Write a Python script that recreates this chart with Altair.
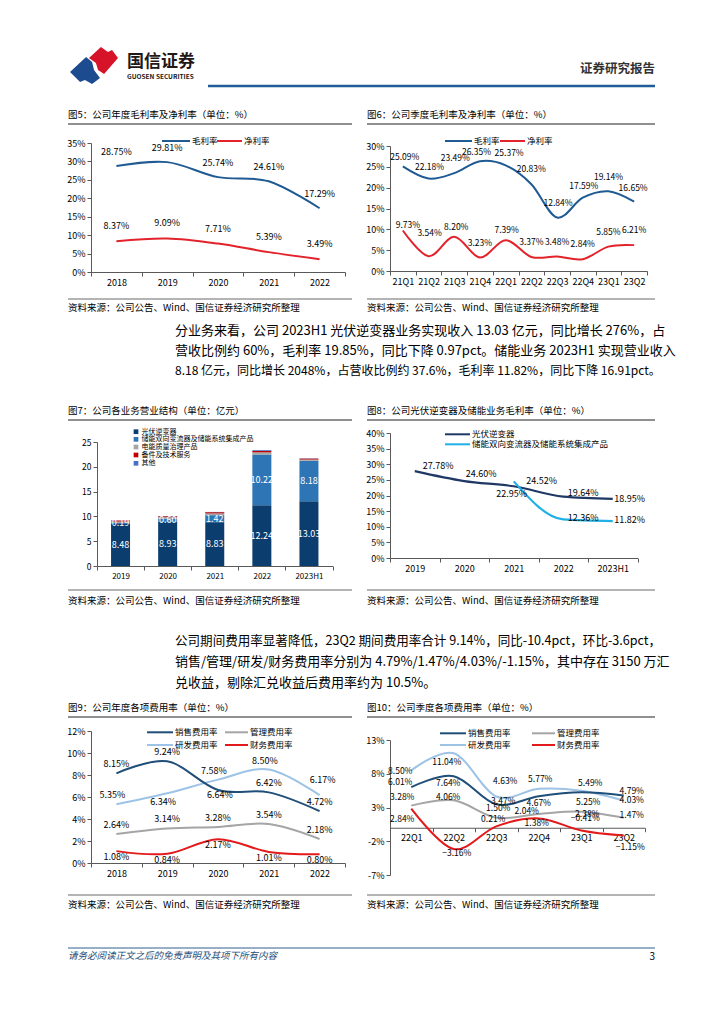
import altair as alt
import pandas as pd

FONT = "Noto Sans CJK SC"
ONE = pd.DataFrame({"a": [0]})

# ---------------- data ----------------
YEARS_A = ["2018", "2019", "2020", "2021", "2022"]
GROSS_A = [28.75, 29.81, 25.74, 24.61, 17.29]
NET_A = [8.37, 9.09, 7.71, 5.39, 3.49]

QUARTERS_B = ["21Q1", "21Q2", "21Q3", "21Q4", "22Q1", "22Q2", "22Q3", "22Q4", "23Q1", "23Q2"]
GROSS_B = [25.09, 22.18, 23.49, 26.35, 25.37, 20.83, 12.84, 17.59, 19.14, 16.65]
NET_B = [9.73, 3.54, 8.20, 3.23, 7.39, 3.37, 3.48, 2.84, 5.85, 6.21]

YEARS_C = ["2019", "2020", "2021", "2022", "2023H1"]
SEG_NAMES = ["光伏逆变器", "储能双向变流器及储能系统集成产品", "电能质量治理产品", "备件及技术服务", "其他"]
PV_REV = [8.48, 8.93, 8.83, 12.24, 13.03]
ESS_REV = [0.19, 0.60, 1.42, 10.22, 8.18]
PQ_REV = [0.30, 0.30, 0.35, 0.45, 0.25]
SVC_REV = [0.20, 0.20, 0.25, 0.30, 0.20]
OTH_REV = [0.03, 0.05, 0.05, 0.15, 0.05]

YEARS_D = ["2019", "2020", "2021", "2022", "2023H1"]
PV_GM = [27.78, 24.60, 22.95, 19.64, 18.95]
ESS_GM = [None, None, 24.52, 12.36, 11.82]

YEARS_E = ["2018", "2019", "2020", "2021", "2022"]
SALES_E = [8.15, 9.24, 6.64, 6.42, 4.72]
ADMIN_E = [2.64, 3.14, 3.28, 3.54, 2.18]
RD_E = [5.35, 6.34, 7.58, 8.50, 6.17]
FIN_E = [1.08, 0.84, 2.17, 1.01, 0.80]

QUARTERS_F = ["22Q1", "22Q2", "22Q3", "22Q4", "23Q1", "23Q2"]
SALES_F = [6.01, 7.64, 3.47, 4.67, 5.25, 4.79]
ADMIN_F = [3.28, 4.06, 1.50, 2.04, 2.38, 1.47]
RD_F = [8.50, 11.04, 4.63, 5.77, 5.49, 4.03]
FIN_F = [2.84, -3.16, 0.21, 1.38, -0.41, -1.15]

SOURCE = "资料来源：公司公告、Wind、国信证券经济研究所整理"
PARA1 = [
    "分业务来看，公司 2023H1 光伏逆变器业务实现收入 13.03 亿元，同比增长 276%，占",
    "营收比例约 60%，毛利率 19.85%，同比下降 0.97pct。储能业务 2023H1 实现营业收入",
    "8.18 亿元，同比增长 2048%，占营收比例约 37.6%，毛利率 11.82%，同比下降 16.91pct。",
]
PARA2 = [
    "公司期间费用率显著降低，23Q2 期间费用率合计 9.14%，同比-10.4pct，环比-3.6pct，",
    "销售/管理/研发/财务费用率分别为 4.79%/1.47%/4.03%/-1.15%，其中存在 3150 万汇",
    "兑收益，剔除汇兑收益后费用率约为 10.5%。",
]

# ---------------- styles ----------------
AX = "#595959"
FRAME = "#6b6b6b"
BLUE = "#1F5A93"
RED = "#E3232B"
SEG_COLORS = ["#0B3D6E", "#2E75B6", "#A5A5A5", "#C00000", "#4472C4"]
C_SALES, C_ADMIN, C_RD, C_FIN = "#1F4E79", "#A5A5A5", "#9DC3E6", "#E31A1C"
PARA1_SIZES = [13, 13, 12]
PARA2_SIZES = [12.55, 13, 13]


def long_df(cats, series):
    rows = []
    for s, vals in series.items():
        for c, v in zip(cats, vals):
            if v is not None:
                rows.append({"cat": c, "series": s, "value": v})
    return pd.DataFrame(rows)


def mk_text(txt, x, y, size, color="#000", align="left", weight="normal", italic=False):
    kw = dict(text=txt, fontSize=size, font=FONT, color=color, align=align,
              baseline="middle", fontWeight=weight)
    if italic:
        kw["fontStyle"] = "italic"
    return alt.Chart(ONE).mark_text(**kw).encode(x=alt.value(x), y=alt.value(y))


def mk_hline(x1, x2, y, color, w):
    return alt.Chart(ONE).mark_rule(color=color, strokeWidth=w).encode(
        x=alt.value(x1), x2=alt.value(x2), y=alt.value(y))


def spacer(w, h):
    return alt.Chart(ONE).mark_text(text=" ", opacity=0, fontSize=1).encode(
        x=alt.value(w / 2), y=alt.value(h / 2)).properties(width=w, height=h)


def frame(title, ty, ly, by, sy, x0, x1):
    return [mk_text(title, x0, ty, 9.5), mk_hline(x0, x1, ly, FRAME, 1.5),
            mk_hline(x0, x1, by, FRAME, 1.2), mk_text(SOURCE, x0, sy, 9.5)]


def leg_line(x1, x2, y, color, label, tx, size=8.5):
    return [mk_hline(x1, x2, y, color, 2), mk_text(label, tx, y, size)]


def x_axis(size=9, offset=None):
    kw = dict(title=None, labelAngle=0, tickBand="extent", tickSize=4, domainColor=AX,
              tickColor=AX, labelFont=FONT, labelFontSize=size, labelColor="#000",
              labelPadding=2, grid=False)
    if offset is not None:
        kw["offset"] = offset
    return alt.Axis(**kw)


def y_axis(values, pct=True, size=9, offset=None):
    kw = dict(values=values, title=None, grid=False, domainColor=AX, tickColor=AX,
              tickSize=4, labelFont=FONT, labelFontSize=size, labelColor="#000",
              labelPadding=2)
    if pct:
        kw["labelExpr"] = "datum.value + '%'"
    if offset is not None:
        kw["offset"] = offset
    return alt.Axis(**kw)


def line_chart(cats, df, styles, lbl_spec, width, height, xrange, yrange, ydomain,
               yvals, interp, decor, x_off=None, lbl_size=9):
    xs = alt.Scale(type="band", domain=cats, range=xrange, paddingInner=0, paddingOuter=0)
    ys = alt.Scale(domain=ydomain, range=yrange, nice=False, zero=False)
    xenc = alt.X("cat:N", sort=cats, scale=xs, axis=x_axis(offset=x_off), bandPosition=0.5)
    yenc = alt.Y("value:Q", scale=ys, axis=y_axis(yvals))
    layers = []
    for s, (color, w) in styles.items():
        layers.append(alt.Chart(df).transform_filter(alt.datum.series == s)
                      .mark_line(color=color, strokeWidth=w, interpolate=interp)
                      .encode(x=xenc, y=yenc))
    for s, (default, over) in lbl_spec.items():
        groups = {}
        for c in cats:
            groups.setdefault(over.get(c, default), []).append(c)
        for (dx, dy), cs in groups.items():
            layers.append(
                alt.Chart(df)
                .transform_filter(alt.datum.series == s)
                .transform_filter(alt.FieldOneOfPredicate(field="cat", oneOf=cs))
                .transform_calculate(lbl="format(datum.value, '.2f') + '%'")
                .mark_text(dx=dx, dy=dy, fontSize=lbl_size, font=FONT, color="#000", baseline="middle")
                .encode(x=xenc, y=yenc, text="lbl:N"))
    layers += decor
    return alt.layer(*layers).properties(width=width, height=height)


# ---------------- fig 5 ----------------
dfA = long_df(YEARS_A, {"毛利率": GROSS_A, "净利率": NET_A})
chartA = line_chart(
    YEARS_A, dfA, {"毛利率": (BLUE, 2), "净利率": (RED, 2)},
    {"毛利率": ((0, -14), {}), "净利率": ((0, -15), {})},
    254, 129, [0, 254], [129, 0], [0, 35], [0, 5, 10, 15, 20, 25, 30, 35], "cardinal",
    frame("图5：公司年度毛利率及净利率（单位：%）", -28, -19, 156, 165, -23, 261)
    + leg_line(71, 99, -2, BLUE, "毛利率", 101) + leg_line(126, 151, -2, RED, "净利率", 153))

# ---------------- fig 6 ----------------
dfB = long_df(QUARTERS_B, {"毛利率": GROSS_B, "净利率": NET_B})
chartB = line_chart(
    QUARTERS_B, dfB, {"毛利率": (BLUE, 2), "净利率": (RED, 2)},
    {"毛利率": ((1, -12), {"21Q1": (2, -9), "21Q3": (1, -15), "21Q4": (-3.5, -9.5),
                         "22Q1": (3.5, -12.5), "22Q2": (0, -15), "22Q3": (1, -15),
                         "23Q1": (0, -14), "23Q2": (-1, -14)}),
     "净利率": ((0, -15), {"21Q1": (5, -5), "21Q2": (1, -23), "21Q3": (2, -10), "22Q1": (1, -10)})},
    257, 128, [0, 257], [128, 3], [0, 30], [0, 5, 10, 15, 20, 25, 30], "cardinal",
    frame("图6：公司季度毛利率及净利率（单位：%）", -28, -19, 156, 165, -23, 265)
    + leg_line(55, 82, -2, BLUE, "毛利率", 84) + leg_line(110, 135, -2, RED, "净利率", 137),
    lbl_size=8.5)

# ---------------- fig 7 (stacked bars) ----------------
rowsC = []
for i, (name, vals) in enumerate(zip(SEG_NAMES, [PV_REV, ESS_REV, PQ_REV, SVC_REV, OTH_REV])):
    for c, v in zip(YEARS_C, vals):
        rowsC.append({"cat": c, "seg": name, "value": v, "order": i})
dfC = pd.DataFrame(rowsC)
xsC = alt.Scale(type="band", domain=YEARS_C, range=[6, 241.5], paddingInner=0, paddingOuter=0)
ysC = alt.Scale(domain=[0, 25], range=[133, 9], nice=False)
axC = y_axis([0, 5, 10, 15, 20, 25], pct=False, size=8.5, offset=-6)
bars = alt.Chart(dfC).mark_bar(size=19).encode(
    x=alt.X("cat:N", sort=YEARS_C, scale=xsC, axis=x_axis(size=8)),
    y=alt.Y("value:Q", scale=ysC, stack="zero", axis=axC),
    color=alt.Color("seg:N", scale=alt.Scale(domain=SEG_NAMES, range=SEG_COLORS), legend=None),
    order=alt.Order("order:Q"))
bar_lbl = (alt.Chart(dfC)
           .transform_stack(stack="value", as_=["v0", "v1"], groupby=["cat"],
                            sort=[alt.SortField("order", "ascending")])
           .transform_filter(alt.datum.order <= 1)
           .transform_calculate(mid="(datum.v0 + datum.v1) / 2", lbl="format(datum.value, '.2f')")
           .mark_text(color="white", fontSize=9, font=FONT, baseline="middle")
           .encode(x=alt.X("cat:N", sort=YEARS_C, scale=xsC, axis=x_axis(size=8), bandPosition=0.5),
                   y=alt.Y("mid:Q", scale=ysC, stack=False, axis=axC),
                   text="lbl:N"))
legC = []
for i, (name, col) in enumerate(zip(SEG_NAMES, SEG_COLORS)):
    yy = [-1.3, 6.3, 14, 22, 30.3][i]
    legC.append(alt.Chart(ONE).mark_square(size=22, color=col, opacity=1).encode(
        x=alt.value(45), y=alt.value(yy)))
    legC.append(mk_text(name, 50.5, yy, 7))
chartC = alt.layer(bars, bar_lbl,
                   *frame("图7：公司各业务营业结构（单位：亿元）", -22, -13, 157, 168, -23, 261),
                   *legC).properties(width=254, height=133)

# ---------------- fig 8 ----------------
dfD = long_df(YEARS_D, {"光伏逆变器": PV_GM, "储能双向变流器及储能系统集成产品": ESS_GM})
chartD = line_chart(
    YEARS_D, dfD, {"光伏逆变器": ("#1F3864", 2.2), "储能双向变流器及储能系统集成产品": ("#1FB0E6", 2.2)},
    {"光伏逆变器": ((20, -4), {"2019": (23.5, -5.5), "2020": (17, -7), "2021": (-2, 8), "2023H1": (17, 0)}),
     "储能双向变流器及储能系统集成产品": ((20, -1), {"2021": (28, 0), "2023H1": (17, -1)})},
    257, 125, [0, 247.5], [125, 0], [0, 40], [0, 5, 10, 15, 20, 25, 30, 35, 40], "monotone",
    frame("图8：公司光伏逆变器及储能业务毛利率（单位：%）", -22, -13, 157, 168, -23, 265)
    + leg_line(55, 80, 1.3, "#1F3864", "光伏逆变器", 82)
    + leg_line(55, 80, 11.3, "#1FB0E6", "储能双向变流器及储能系统集成产品", 82))

# ---------------- fig 9 ----------------
dfE = long_df(YEARS_E, {"销售费用率": SALES_E, "管理费用率": ADMIN_E, "研发费用率": RD_E, "财务费用率": FIN_E})
chartE = line_chart(
    YEARS_E, dfE,
    {"研发费用率": (C_RD, 2), "管理费用率": (C_ADMIN, 2), "财务费用率": (C_FIN, 2), "销售费用率": (C_SALES, 2)},
    {"销售费用率": ((0, -9.5), {"2020": (2, 5)}),
     "研发费用率": ((-4, -9), {"2019": (-4, 8.5), "2022": (3, -15)}),
     "管理费用率": ((0, -9), {}),
     "财务费用率": ((0, 6), {})},
    254, 132, [0, 254], [132, 0], [0, 12], [0, 2, 4, 6, 8, 10, 12], "cardinal",
    frame("图9：公司年度各项费用率（单位：%）", -23, -14, 164, 174, -23, 261)
    + leg_line(56, 82, 1.3, C_SALES, "销售费用率", 84) + leg_line(134, 157, 1.3, C_ADMIN, "管理费用率", 159)
    + leg_line(56, 82, 14, C_RD, "研发费用率", 84) + leg_line(134, 157, 14, C_FIN, "财务费用率", 159))

# ---------------- fig 10 ----------------
dfF = long_df(QUARTERS_F, {"销售费用率": SALES_F, "管理费用率": ADMIN_F, "研发费用率": RD_F, "财务费用率": FIN_F})
F_DOM = [-7, 13]
F_RANGE = [144, 9]
zero_px = F_RANGE[1] + (F_DOM[1] - 0) / (F_DOM[1] - F_DOM[0]) * (F_RANGE[0] - F_RANGE[1])
chartF = line_chart(
    QUARTERS_F, dfF,
    {"研发费用率": (C_RD, 2), "管理费用率": (C_ADMIN, 2), "财务费用率": (C_FIN, 2), "销售费用率": (C_SALES, 2)},
    {"研发费用率": ((0, -9), {"22Q1": (-11, 1), "22Q2": (-7, 8.5), "22Q3": (9, -15), "22Q4": (1.5, -9.5),
                           "23Q1": (9, -7.4), "23Q2": (8, -0.5)}),
     "销售费用率": ((0, -9), {"22Q1": (-11, -5.5), "22Q2": (-5.5, 7), "22Q3": (7, -3.6), "22Q4": (0, 7),
                           "23Q1": (7, 9.4), "23Q2": (8, -4.5)}),
     "管理费用率": ((0, -9), {"22Q1": (-9, -8.3), "22Q2": (-5.5, -3), "22Q3": (2, -9.3), "22Q4": (-12, -3.3),
                           "23Q1": (6, 2.3), "23Q2": (8, -2.8)}),
     "财务费用率": ((0, 6), {"22Q1": (-9, 10.4), "22Q2": (3, 4), "22Q3": (-3, -7.3), "22Q4": (-2, 5),
                          "23Q1": (4, -12.5), "23Q2": (6.5, 11.8)})},
    257, 144, [0, 255], F_RANGE, F_DOM, [-7, -2, 3, 8, 13], "cardinal",
    frame("图10：公司季度各项费用率（单位：%）", -23, -14, 164, 174, -23, 265)
    + leg_line(50, 76, 2.3, C_SALES, "销售费用率", 78) + leg_line(142, 165, 2.3, C_ADMIN, "管理费用率", 167)
    + leg_line(50, 76, 14, C_RD, "研发费用率", 78) + leg_line(142, 165, 14, C_FIN, "财务费用率", 167),
    x_off=-(F_RANGE[0] - zero_px), lbl_size=8.5)

# ---------------- page text rows ----------------
LOGO_RED = "M-0.21,-0.29 L0.29,-0.75 L0.58,-0.54 L0.75,-0.63 L1,-0.29 L0.42,0.38 L0.17,0.21 L0.08,-0.08 Z"
LOGO_BLUE = "M-1,0.29 L-0.33,-0.33 L-0.08,-0.12 L0,0.21 L0.25,0.54 L-0.08,0.79 L-0.38,0.63 L-0.58,0.71 Z"
header = alt.layer(
    alt.Chart(ONE).mark_text(text=" ", fontSize=1, baseline="top", align="left", opacity=0).encode(
        x=alt.value(0), y=alt.value(0)),
    alt.Chart(ONE).mark_point(shape=LOGO_RED, size=2304, filled=True, color="#D7132A", opacity=1).encode(
        x=alt.value(86), y=alt.value(57)),
    alt.Chart(ONE).mark_point(shape=LOGO_BLUE, size=2304, filled=True, color="#1D4B8F", opacity=1).encode(
        x=alt.value(86), y=alt.value(57)),
    mk_text("国信证券", 119, 54, 17, color="#231815", weight="bold"),
    mk_text("GUOSEN SECURITIES", 119, 69, 6.5, color="#231815", weight="bold"),
    mk_text("证券研究报告", 647, 61, 12.5, color="#333", align="right", weight="bold"),
    mk_hline(200, 647, 78, "#1F5C99", 2.5),
).properties(width=83, height=135)

para1 = alt.layer(*[mk_text(t, 167, y, s) for t, y, s in zip(PARA1, [59, 79, 99], PARA1_SIZES)]
                  ).properties(width=83, height=161)
para2 = alt.layer(*[mk_text(t, 167, y, s) for t, y, s in zip(PARA2, [75, 96, 117], PARA2_SIZES)]
                  ).properties(width=83, height=165)
footer = alt.layer(
    mk_hline(60, 647, 73, "#2F5E8E", 1),
    mk_text("请务必阅读正文之后的免责声明及其项下所有内容", 60, 81, 9.5, color="#1F4E79", italic=True),
    mk_text("3", 647, 82, 10, align="right"),
).properties(width=83, height=95)

W = [83, 254, 45, 257]
cells = [
    header, spacer(W[1], 135), spacer(W[2], 135), spacer(W[3], 135),
    spacer(W[0], 129), chartA, spacer(W[2], 129), chartB,
    para1, spacer(W[1], 161), spacer(W[2], 161), spacer(W[3], 161),
    spacer(W[0], 133), chartC, spacer(W[2], 133), chartD,
    para2, spacer(W[1], 165), spacer(W[2], 165), spacer(W[3], 165),
    spacer(W[0], 144), chartE, spacer(W[2], 144), chartF,
    footer, spacer(W[1], 95), spacer(W[2], 95), spacer(W[3], 95),
]

chart = (alt.concat(*cells, columns=4, spacing=0, bounds="flush", align="each")
         .properties(padding=0, background="white")
         .configure(font=FONT)
         .configure_view(strokeWidth=0, stroke="transparent"))

chart.save("out.html", embed_options={"renderer": "svg", "actions": False})
